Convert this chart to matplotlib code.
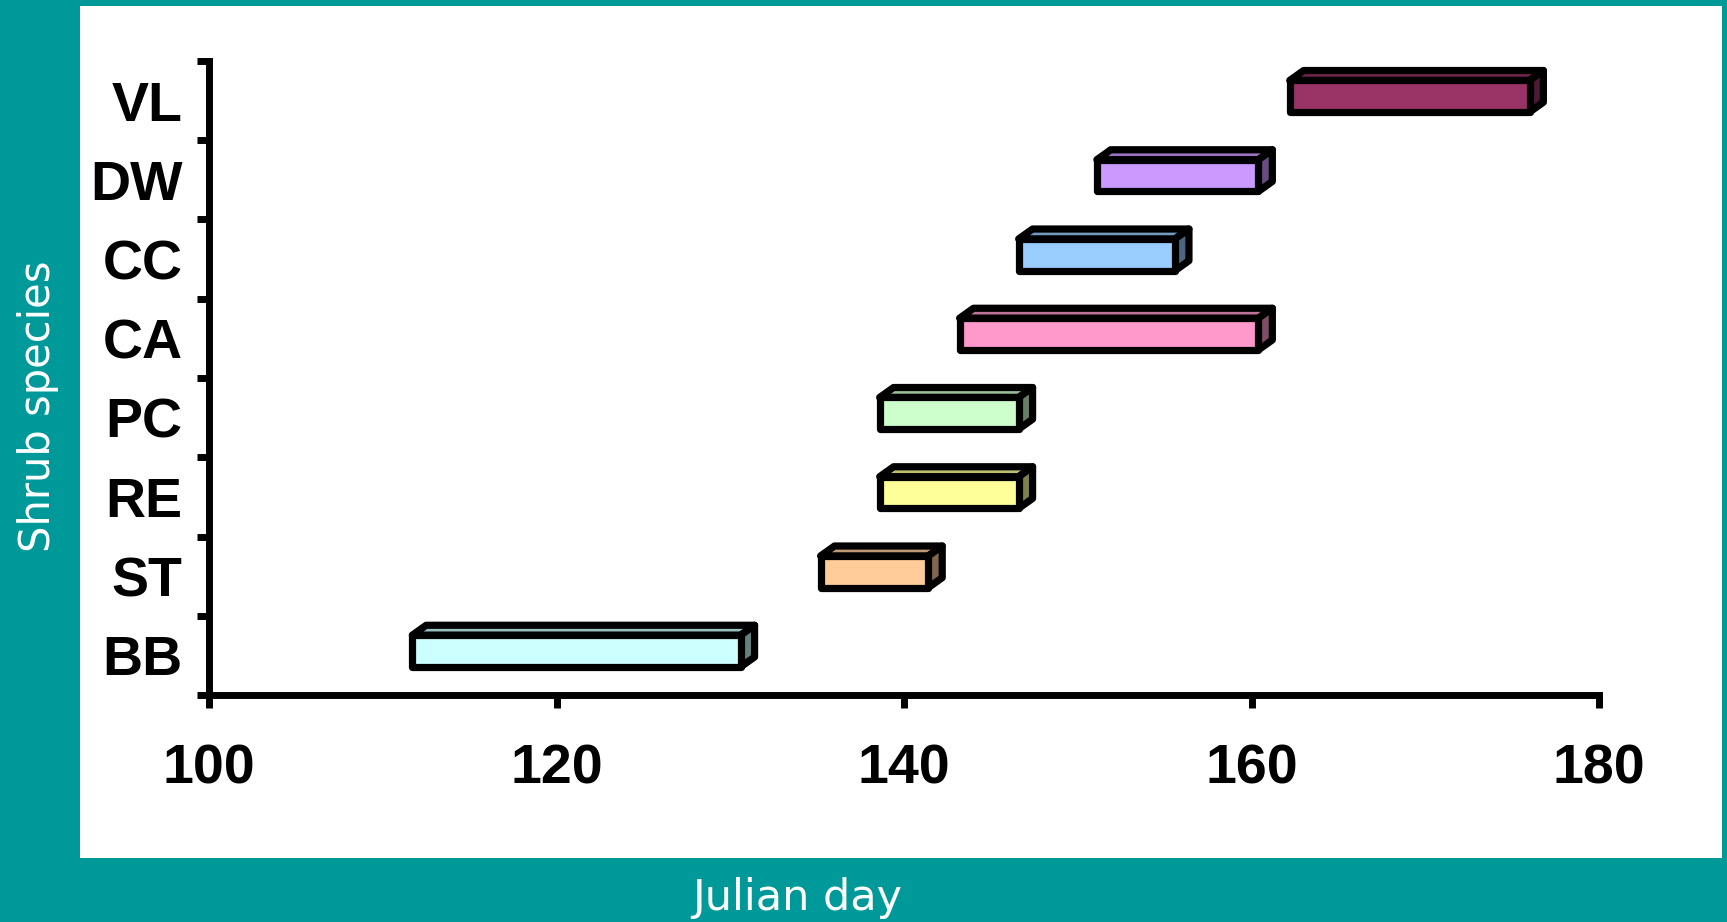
import matplotlib
matplotlib.use("Agg")
import matplotlib.pyplot as plt
from matplotlib.patches import Rectangle, Polygon
import numpy as np

# ---- data ----
species = ["BB", "ST", "RE", "PC", "CA", "CC", "DW", "VL"]
start_day = [111.7, 135.2, 138.6, 138.6, 143.2, 146.6, 151.1, 162.2]
end_day = [130.6, 141.4, 146.6, 146.6, 160.4, 155.6, 160.4, 176.0]
front_colors = ["#CCFFFF", "#FFCC99", "#FFFF99", "#CCFFCC",
                "#FF99CC", "#99CCFF", "#CC99FF", "#993366"]
x_ticks = [100, 120, 140, 160, 180]

TEAL = "#009999"
W, H = 1727, 922
fig = plt.figure(figsize=(W / 100, H / 100), dpi=100, facecolor=TEAL)

# white panel
fig.patches.append(Rectangle((80 / W, (H - 858) / H), (1722 - 80) / W, (858 - 6) / H,
                             transform=fig.transFigure, facecolor="white",
                             edgecolor="none", zorder=-10))

ax = fig.add_axes([209 / W, (H - 695) / H, (1599 - 209) / W, (695 - 61) / H])
ax.set_zorder(5)
ax.set_facecolor("none")
ax.set_xlim(100, 180)
ax.set_ylim(0, len(species))

for s in ["top", "right"]:
    ax.spines[s].set_visible(False)
for s in ["left", "bottom"]:
    ax.spines[s].set_linewidth(5)
    ax.spines[s].set_capstyle("projecting")

label_font = dict(family="Liberation Sans", weight="bold", size=40)
ax.set_xticks(x_ticks)
ax.set_xticklabels([str(t) for t in x_ticks], **label_font)
ax.tick_params(axis="x", direction="out", length=9, width=5, pad=26)

cats = np.arange(len(species)) + 0.5
ax.set_yticks(cats)
ax.set_yticklabels(species, **label_font)
ax.set_yticks(np.arange(len(species) + 1), minor=True)
ax.tick_params(axis="y", which="major", length=0, pad=19)
ax.tick_params(axis="y", which="minor", direction="out", length=9, width=5)


def shade(c, f):
    rgb = np.array(matplotlib.colors.to_rgb(c))
    return tuple(rgb * f)


h = 0.40
off = 0.055
dx = 0.8
dy = 0.125
lw = 5.2
for yc, x0, x1, c in zip(cats, start_day, end_day, front_colors):
    yb = yc + off - h / 2
    yt = yc + off + h / 2
    top = Polygon([(x0, yt), (x1, yt), (x1 + dx, yt + dy), (x0 + dx, yt + dy)],
                  closed=True, facecolor=shade(c, 0.75), edgecolor="black",
                  linewidth=lw, joinstyle="round", zorder=3)
    side = Polygon([(x1, yb), (x1 + dx, yb + dy), (x1 + dx, yt + dy), (x1, yt)],
                   closed=True, facecolor=shade(c, 0.5), edgecolor="black",
                   linewidth=lw, joinstyle="round", zorder=3)
    front = Rectangle((x0, yb), x1 - x0, h, facecolor=c, edgecolor="black",
                      linewidth=lw, joinstyle="round", zorder=4)
    for p in (top, side, front):
        ax.add_patch(p)

fig.text(797 / W, (H - 898) / H, "Julian day", color="white", fontsize=31,
         family="DejaVu Sans", ha="center", va="center")
fig.text(38 / W, (H - 406) / H, "Shrub species", color="white", fontsize=30,
         family="DejaVu Sans", ha="center", va="center", rotation=90)

fig.savefig("out.png", dpi=100, facecolor=TEAL)
